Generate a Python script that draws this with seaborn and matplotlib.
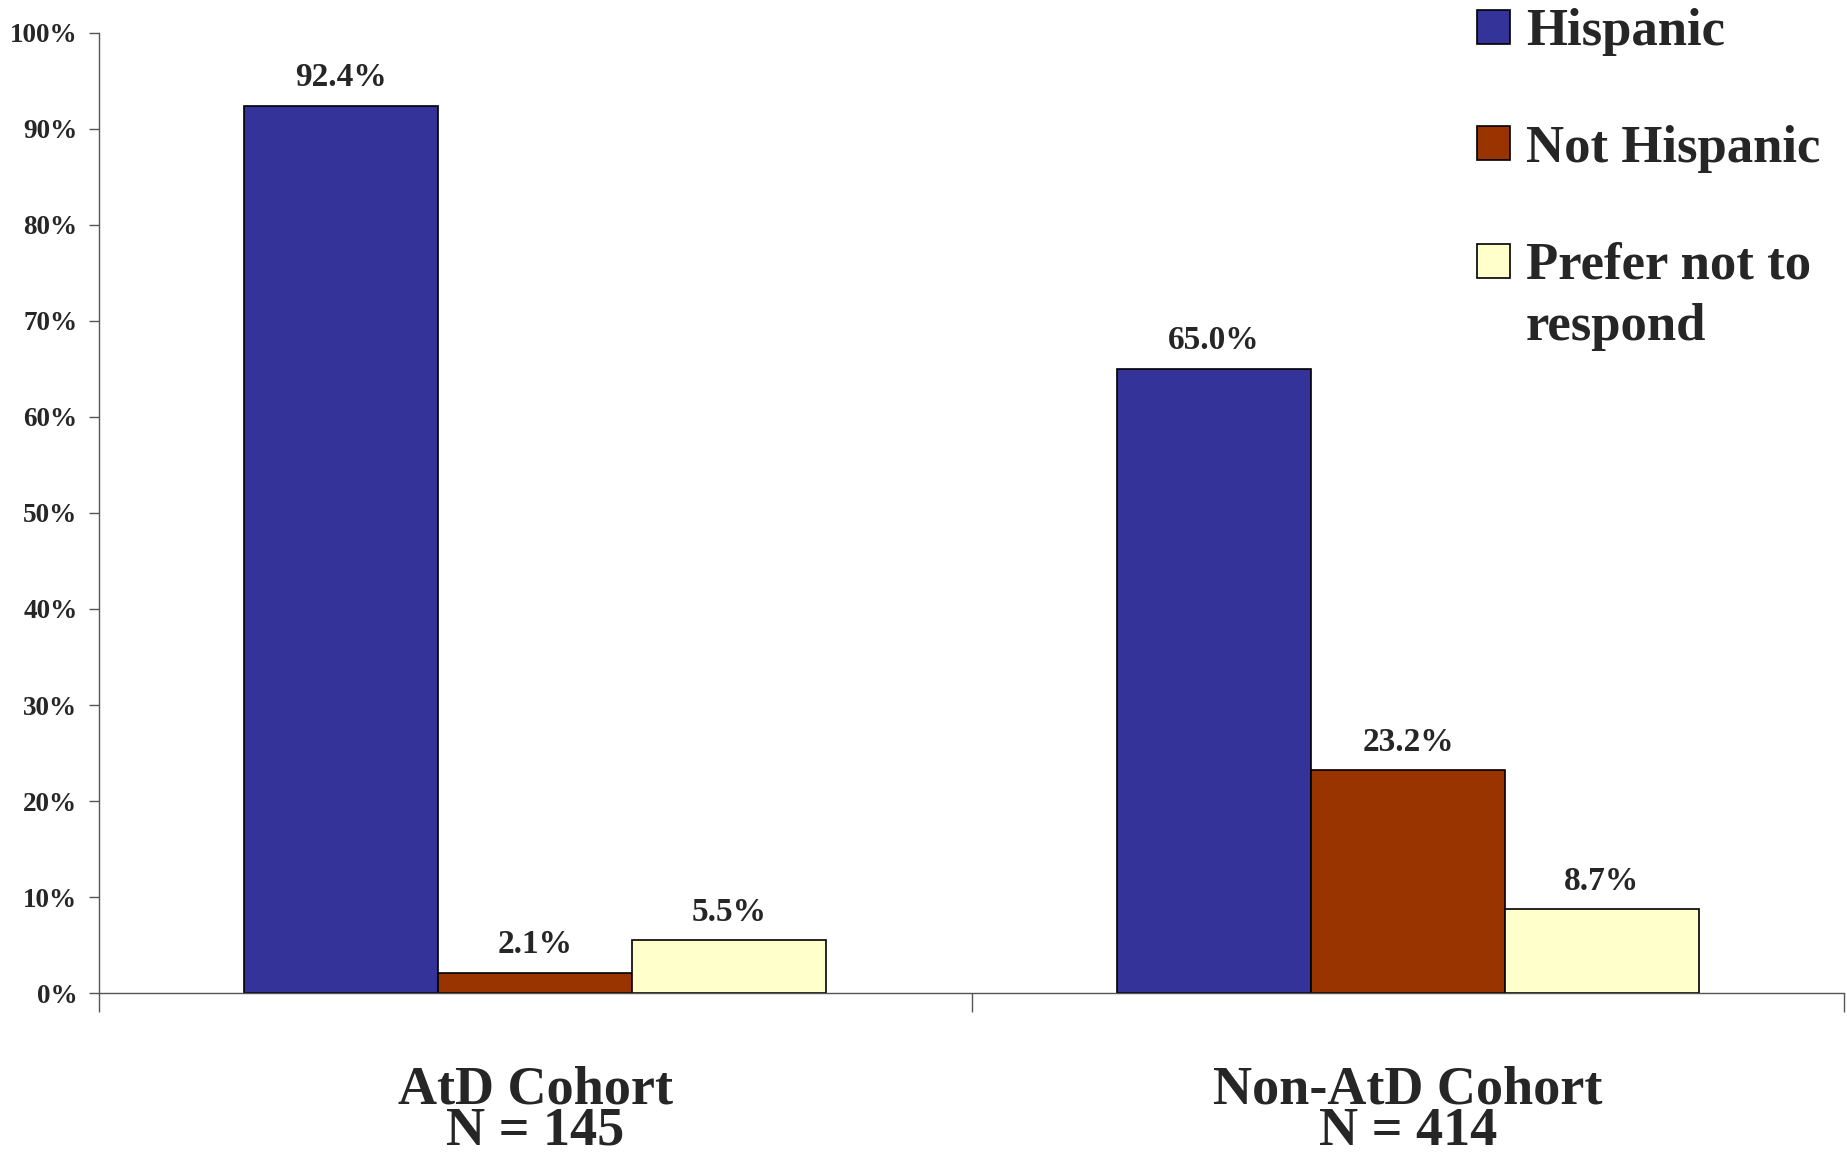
import matplotlib.pyplot as plt
import numpy as np
import pandas as pd
import seaborn as sns
from matplotlib.legend_handler import HandlerPatch
from matplotlib.patches import Rectangle

cohorts = ['AtD Cohort\nN = 145', 'Non-AtD Cohort\nN = 414']
groups = ['Hispanic', 'Not Hispanic', 'Prefer not to\nrespond']
hispanic = [92.4, 65.0]
not_hispanic = [2.1, 23.2]
prefer_not = [5.5, 8.7]
yticks = [0, 10, 20, 30, 40, 50, 60, 70, 80, 90, 100]

colors = ['#333399', '#993300', '#FFFFCC']

df = pd.DataFrame({
    'cohort': cohorts * 3,
    'group': np.repeat(groups, 2),
    'pct': hispanic + not_hispanic + prefer_not,
})

sns.set_style('white')
plt.rcParams['font.family'] = ['Liberation Serif', 'DejaVu Serif']
plt.rcParams['font.weight'] = 'bold'

fig = plt.figure(figsize=(18.47, 11.52), dpi=100)
ax = fig.add_axes([0.0536, 0.138, 0.945, 0.8334])

sns.barplot(
    data=df, x='cohort', y='pct', hue='group', order=cohorts,
    hue_order=groups, palette=colors, width=2 / 3, gap=0,
    edgecolor='black', linewidth=1.2, saturation=1, errorbar=None, ax=ax,
)

for c in ax.containers:
    ax.bar_label(c, fmt='%.1f%%', padding=9, fontsize=24, fontweight='bold')

ax.set_xlim(-0.5, 1.5)
ax.set_ylim(0, 100)
ax.set_yticks(yticks)
ax.set_yticklabels(['%d%%' % t for t in yticks], fontsize=19.5, fontweight='bold')
ax.tick_params(axis='y', direction='out', length=7.5, width=1, color='#555555', pad=8, left=True)

ax.set_xticks([-0.5, 0.5, 1.5])
ax.set_xticklabels([])
ax.tick_params(axis='x', which='major', direction='out', length=14, width=1, color='#555555', bottom=True)
ax.set_xticks([0, 1], minor=True)
ax.set_xticklabels(cohorts, minor=True, fontsize=39, fontweight='bold', linespacing=0.78)
ax.tick_params(axis='x', which='minor', length=0, pad=52)

ax.set_xlabel('')
ax.set_ylabel('')
for s in ['top', 'right']:
    ax.spines[s].set_visible(False)
for s in ['left', 'bottom']:
    ax.spines[s].set_color('#555555')
    ax.spines[s].set_linewidth(1)


# keep the square next to the first line of a two-line label
def square(legend, orig_handle, xdescent, ydescent, width, height, fontsize):
    lines = orig_handle.get_label().count('\n')
    return Rectangle((-xdescent, -ydescent + lines * 0.66 * fontsize), width, height)


handles, labels = ax.get_legend_handles_labels()
for h, lab in zip(handles, labels):
    h.set_label(lab)
ax.get_legend().remove()
leg = fig.legend(
    handles, labels, loc='upper left', bbox_to_anchor=(0.774, 1.034),
    frameon=False, prop={'size': 38, 'weight': 'bold'},
    handlelength=0.62, handleheight=0.62, handletextpad=0.3, labelspacing=1.3,
    handler_map={h: HandlerPatch(patch_func=square) for h in handles},
)
for t in leg.get_texts():
    t.set_linespacing(1.35)

fig.savefig('out.png', dpi=100)
